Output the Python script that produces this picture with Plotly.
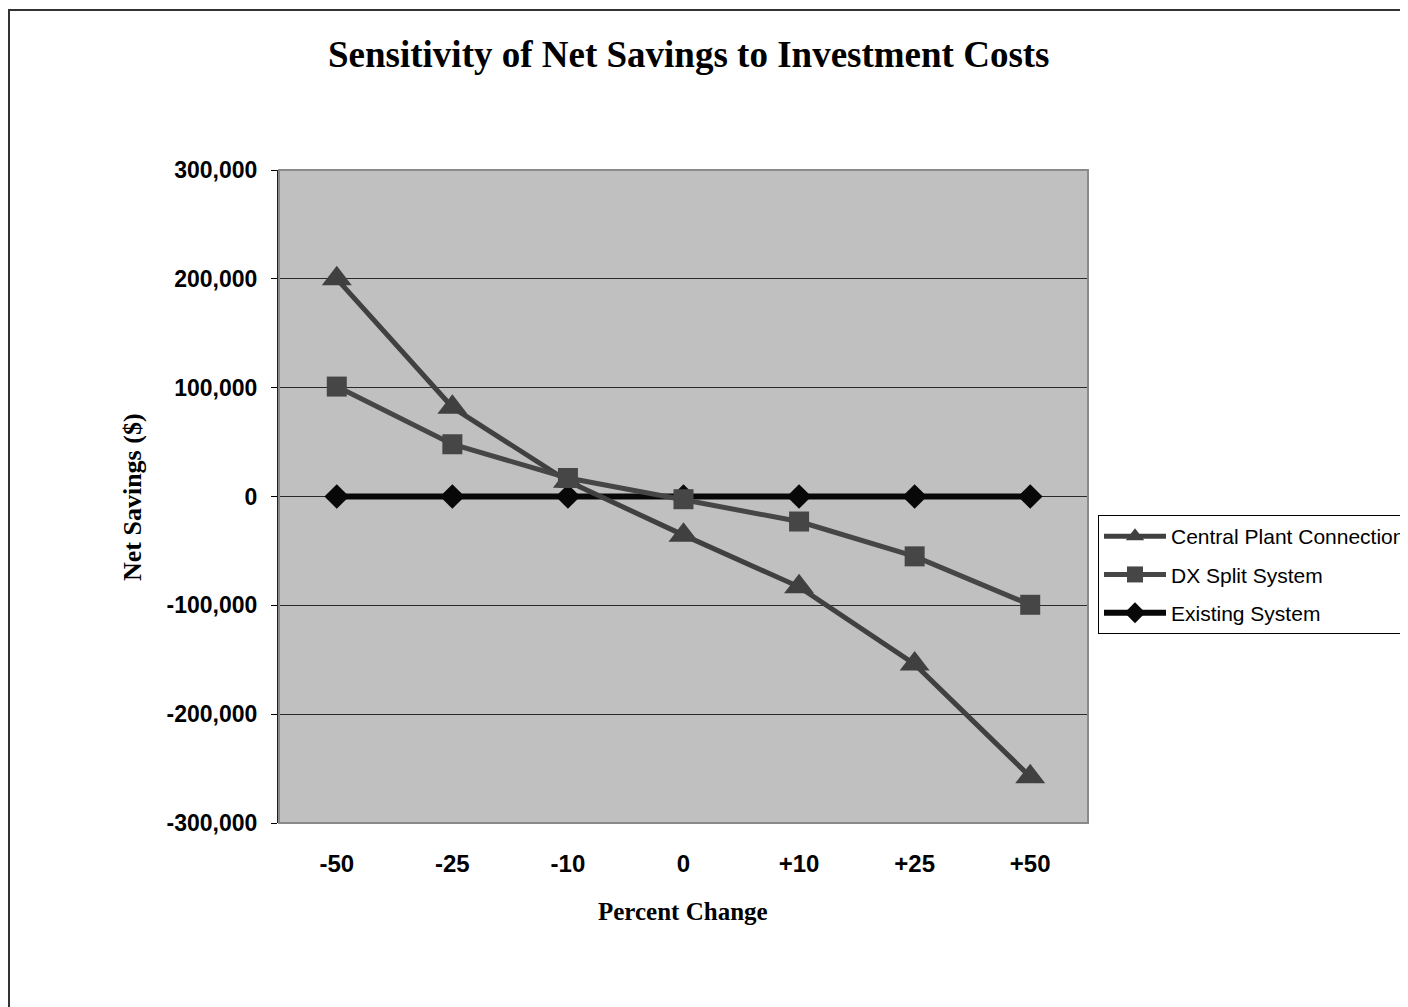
import plotly.graph_objects as go

# ---- data ----
categories = ["-50", "-25", "-10", "0", "+10", "+25", "+50"]
central_plant = [200000, 82000, 14000, -35500, -83000, -154000, -257500]
dx_split = [101000, 48000, 17000, -2500, -23000, -55000, -99500]
existing = [0, 0, 0, 0, 0, 0, 0]
y_tick_vals = [300000, 200000, 100000, 0, -100000, -200000, -300000]
y_tick_text = ["300,000", "200,000", "100,000", "0", "-100,000", "-200,000", "-300,000"]

# page body has an 8px margin; work in screen pixels and convert
OFF = 8
W, H = 1400, 999
ML, MT = 279 - OFF, 170 - OFF
MR = W - (1088 - OFF)
MB = H - (823 - OFF)
PW, PH = W - ML - MR, H - MT - MB


def px_x(p):
    return (p - OFF - ML) / PW


def px_y(p):
    return (H - MB - (p - OFF)) / PH


fig = go.Figure()

fig.add_trace(go.Scatter(
    x=categories, y=existing, name="Existing System", mode="lines+markers",
    line=dict(color="#080808", width=6),
    marker=dict(symbol="diamond", size=19, color="#080808"),
    legendrank=3, legendgroup="c",
))
fig.add_trace(go.Scatter(
    x=categories, y=central_plant, name="Central Plant Connection", mode="lines+markers",
    line=dict(color="#404040", width=5),
    marker=dict(symbol="triangle-up", size=26, color="#404040"),
    legendrank=1, legendgroup="a",
))
fig.add_trace(go.Scatter(
    x=categories, y=dx_split, name="DX Split System", mode="lines+markers",
    line=dict(color="#464646", width=5),
    marker=dict(symbol="square", size=20, color="#464646"),
    legendrank=2, legendgroup="b",
))

fig.update_layout(
    width=W, height=H,
    margin=dict(l=ML, r=MR, t=MT, b=MB, autoexpand=False),
    paper_bgcolor="white",
    plot_bgcolor="#c0c0c0",
    showlegend=True,
    legend=dict(
        x=px_x(1098), y=px_y(515), xanchor="left", yanchor="top",
        bgcolor="white", bordercolor="black", borderwidth=1,
        font=dict(family="Liberation Sans, Arial", size=21, color="black"),
        itemwidth=62, tracegroupgap=8,
    ),
    xaxis=dict(
        type="category", range=[-0.5, 6.5], showgrid=False, zeroline=False,
        showline=False, ticks="", ticklabelstandoff=24,
        tickfont=dict(family="Liberation Sans, Arial", size=24, color="black", weight="bold"),
    ),
    yaxis=dict(
        range=[-300000, 300000], tickvals=y_tick_vals, ticktext=y_tick_text,
        showgrid=True, gridcolor="#2a2a2a", gridwidth=1,
        zeroline=False, showline=True, linecolor="#202020", linewidth=2,
        ticks="outside", ticklen=6, tickcolor="black", tickwidth=1,
        ticklabelstandoff=9,
        tickfont=dict(family="Liberation Sans, Arial", size=23, color="black", weight="bold"),
    ),
    shapes=[
        # plot area border
        dict(type="rect", xref="paper", yref="paper", x0=0, x1=1, y0=0, y1=1,
             line=dict(color="#8a8a8a", width=2), fillcolor="rgba(0,0,0,0)", layer="above"),
        # outer chart border (extends past the cropped picture edges)
        dict(type="rect", xref="paper", yref="paper",
             x0=px_x(9), x1=px_x(1430), y0=px_y(1030), y1=px_y(10),
             line=dict(color="#333333", width=2), fillcolor="rgba(0,0,0,0)", layer="below"),
    ],
    annotations=[
        dict(text="<b>Sensitivity of Net Savings to Investment Costs</b>",
             xref="paper", yref="paper", x=px_x(689), y=px_y(55),
             xanchor="center", yanchor="middle", showarrow=False,
             font=dict(family="Liberation Serif, Times New Roman", size=37, color="black")),
        dict(text="<b>Percent Change</b>",
             xref="paper", yref="paper", x=px_x(683), y=px_y(911),
             xanchor="center", yanchor="middle", showarrow=False,
             font=dict(family="Liberation Serif, Times New Roman", size=25, color="black")),
        dict(text="<b>Net Savings ($)</b>", textangle=-90,
             xref="paper", yref="paper", x=px_x(133), y=px_y(497),
             xanchor="center", yanchor="middle", showarrow=False,
             font=dict(family="Liberation Serif, Times New Roman", size=26, color="black")),
    ],
)

fig.write_html("out.html")
